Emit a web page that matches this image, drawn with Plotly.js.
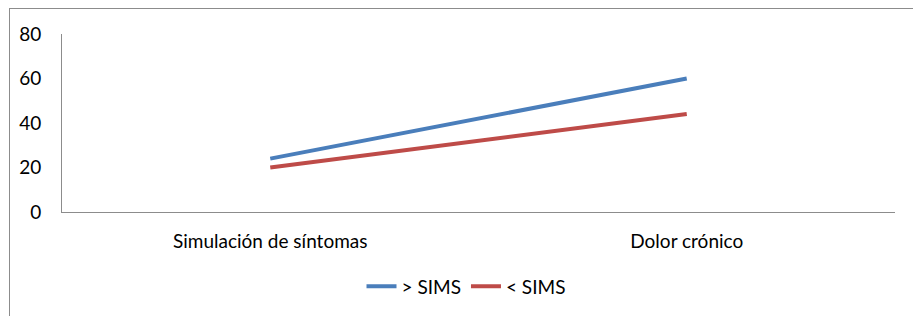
<!DOCTYPE html>
<html>
<head>
<meta charset="utf-8">
<script src="https://cdn.plot.ly/plotly-3.0.1.min.js"></script>
<style>
html,body{margin:0;padding:0;background:#fff;}
#wrap{position:relative;width:913px;height:316px;overflow:hidden;}
#chart{position:absolute;left:0;top:0;width:913px;height:316px;}
#frame{position:absolute;left:9px;top:8px;width:1000px;height:400px;border-left:1px solid #8c8c8c;border-top:1px solid #8c8c8c;pointer-events:none;}
</style>
</head>
<body>
<div id="wrap"><div id="chart"></div><div id="frame"></div></div>
<script>
const categories = ["Simulación de síntomas", "Dolor crónico"];
const seriesNames = ["> SIMS", "< SIMS"];
const highSims = [24, 60];
const lowSims = [20, 44];
const yTicks = [0, 20, 40, 60, 80];

const font = {family: "Lato, 'Open Sans', sans-serif", size: 19, color: "#000"};

const traces = [
  {x: categories, y: highSims, name: seriesNames[0], type: "scatter", mode: "lines",
   line: {color: "#4a7ebb", width: 4}},
  {x: categories, y: lowSims, name: seriesNames[1], type: "scatter", mode: "lines",
   line: {color: "#be4b48", width: 4}}
];

const layout = {
  width: 913, height: 316,
  margin: {l: 62, r: 18, t: 34, b: 103},
  paper_bgcolor: "rgba(0,0,0,0)", plot_bgcolor: "#fff",
  font: font,
  showlegend: true,
  legend: {orientation: "h", x: 0.485, xanchor: "center", y: -0.41, yanchor: "middle",
           font: font, itemwidth: 30, traceorder: "normal"},
  xaxis: {type: "category", range: [-0.5, 1.5], showgrid: false, zeroline: false,
          showline: true, linecolor: "#8c8c8c", linewidth: 1, ticks: "",
          tickfont: font, ticklabelstandoff: 12},
  yaxis: {range: [0, 80], tickvals: yTicks, showgrid: false, zeroline: false,
          showline: true, linecolor: "#8c8c8c", linewidth: 1, ticks: "",
          tickfont: font, ticklabelstandoff: 16}
};

Plotly.newPlot("chart", traces, layout, {staticPlot: true, displayModeBar: false});
</script>
</body>
</html>
